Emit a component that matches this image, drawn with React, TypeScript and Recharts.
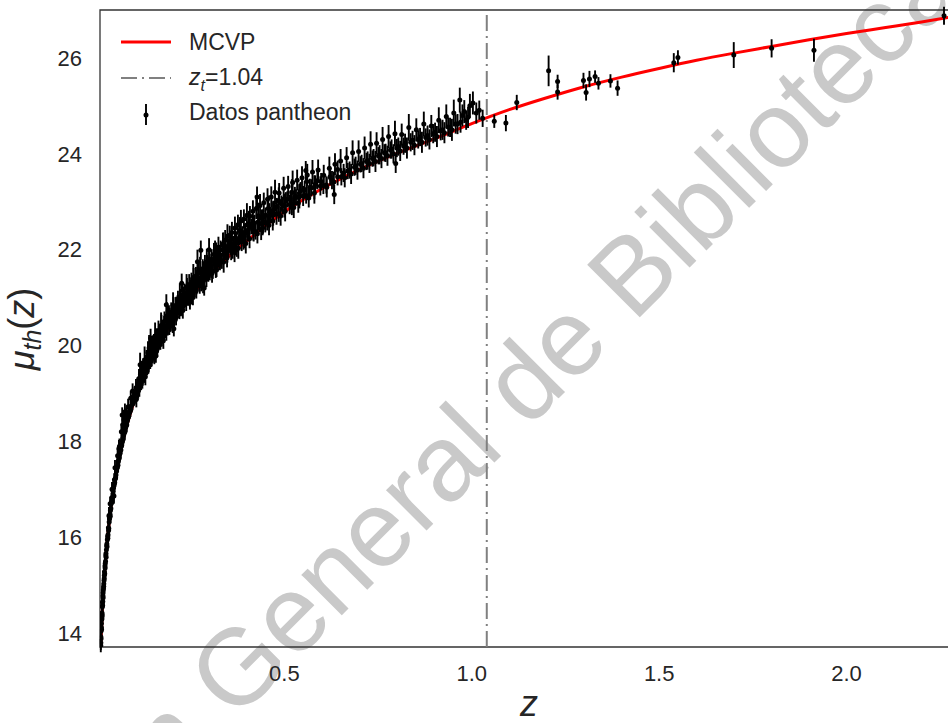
import { ComposedChart, ErrorBar, Label, Legend, Line, ReferenceArea, ReferenceLine, Scatter, XAxis, YAxis } from "recharts";

// model curve (MCVP)
const curveZ = [0.01, 0.015, 0.02, 0.03, 0.04, 0.05, 0.06, 0.07, 0.085, 0.1, 0.125, 0.15, 0.175, 0.2, 0.25, 0.3, 0.35, 0.4, 0.45, 0.5, 0.6, 0.7, 0.8, 0.9, 1.0, 1.1, 1.2, 1.3, 1.4, 1.5, 1.6, 1.7, 1.8, 1.9, 2.0, 2.1, 2.2, 2.3];
const curveMu = [13.71, 14.6, 15.23, 16.13, 16.77, 17.27, 17.68, 18.04, 18.48, 18.85, 19.36, 19.79, 20.15, 20.48, 21.02, 21.47, 21.85, 22.18, 22.5, 22.79, 23.27, 23.67, 24.01, 24.31, 24.63, 24.92, 25.17, 25.4, 25.6, 25.78, 25.95, 26.1, 26.24, 26.38, 26.51, 26.63, 26.75, 26.88];

// pantheon points [z, mu, err]
const lowZ = [
  [0.0101, 13.74, 0.14], [0.0104, 13.92, 0.16], [0.0108, 13.88, 0.13], [0.0112, 14.05, 0.15], [0.0116, 14.12, 0.12],
  [0.0121, 14.08, 0.14], [0.0125, 14.28, 0.15], [0.013, 14.3, 0.13], [0.0135, 14.42, 0.14], [0.0139, 14.38, 0.12],
  [0.0144, 14.55, 0.15], [0.0149, 14.58, 0.13], [0.0154, 14.66, 0.14], [0.0159, 14.78, 0.12], [0.0164, 14.74, 0.13],
  [0.0169, 14.9, 0.15], [0.0175, 14.94, 0.12], [0.0181, 15.03, 0.14], [0.0187, 15.1, 0.13], [0.0193, 15.14, 0.12],
  [0.0199, 15.28, 0.14], [0.0206, 15.24, 0.12], [0.0213, 15.4, 0.13], [0.022, 15.45, 0.14], [0.0227, 15.5, 0.12],
  [0.0235, 15.62, 0.13], [0.0243, 15.58, 0.15], [0.0251, 15.74, 0.12], [0.0259, 15.82, 0.13], [0.0267, 15.8, 0.12],
  [0.0276, 15.95, 0.14], [0.0285, 16.02, 0.12], [0.0294, 16.05, 0.13], [0.0304, 16.2, 0.12], [0.0314, 16.18, 0.14],
  [0.0318, 16.45, 0.18], [0.0325, 16.32, 0.12], [0.0336, 16.4, 0.13], [0.0347, 16.48, 0.12], [0.0359, 16.56, 0.14],
  [0.0371, 16.6, 0.12], [0.0384, 16.72, 0.13], [0.0397, 16.76, 0.12], [0.0411, 16.84, 0.14], [0.0425, 16.9, 0.12],
  [0.044, 17.02, 0.13], [0.0452, 16.86, 0.16], [0.0456, 17.08, 0.15], [0.0472, 17.14, 0.12], [0.0489, 17.22, 0.13],
  [0.0506, 17.3, 0.14], [0.0523, 17.38, 0.12], [0.0541, 17.46, 0.13], [0.0559, 17.5, 0.12], [0.0578, 17.62, 0.14],
  [0.0585, 17.85, 0.18], [0.0597, 17.66, 0.12], [0.0617, 17.76, 0.13], [0.0637, 17.82, 0.14], [0.0658, 17.92, 0.12],
  [0.0672, 18.55, 0.16], [0.0679, 18.0, 0.13], [0.0701, 18.05, 0.12], [0.0723, 18.16, 0.14], [0.0745, 18.62, 0.17],
  [0.0746, 18.2, 0.12], [0.0769, 18.3, 0.13], [0.0793, 18.34, 0.14], [0.0817, 18.45, 0.12], [0.0842, 18.52, 0.13],
  [0.0868, 18.6, 0.12], [0.0894, 18.65, 0.14], [0.0921, 18.75, 0.12], [0.0948, 18.78, 0.13], [0.0975, 18.88, 0.14],
  [0.0998, 18.92, 0.12],
];

const cfa = [
  [0.0103, 13.8, 0.15], [0.0119, 14.2, 0.14], [0.0133, 14.34, 0.15], [0.0147, 14.64, 0.14], [0.0162, 14.84, 0.15],
  [0.0178, 14.98, 0.14], [0.0196, 15.2, 0.15], [0.0217, 15.36, 0.14], [0.0239, 15.66, 0.15], [0.0263, 15.86, 0.14],
  [0.0289, 15.98, 0.15], [0.0309, 16.14, 0.14], [0.0331, 16.38, 0.15], [0.035, 16.7, 0.15], [0.0353, 16.44, 0.14],
  [0.0377, 16.7, 0.15], [0.04, 17.0, 0.15], [0.0404, 16.82, 0.14], [0.0432, 16.96, 0.15], [0.0464, 17.2, 0.14],
  [0.048, 17.45, 0.16], [0.0497, 17.24, 0.15], [0.0532, 17.44, 0.14], [0.055, 17.7, 0.15], [0.0568, 17.58, 0.15],
  [0.06, 17.9, 0.16], [0.0607, 17.74, 0.14], [0.0647, 17.9, 0.15], [0.065, 18.2, 0.16], [0.069, 18.35, 0.15],
  [0.069, 18.06, 0.14], [0.072, 18.45, 0.16], [0.0734, 18.22, 0.15], [0.078, 18.55, 0.15], [0.0781, 18.36, 0.14],
  [0.083, 18.72, 0.17], [0.083, 18.5, 0.15], [0.088, 18.62, 0.14], [0.09, 18.9, 0.16], [0.0934, 18.82, 0.15],
  [0.095, 19.05, 0.16], [0.0987, 18.9, 0.14],
];

const midA = [
  [0.102, 18.95, 0.14], [0.104, 19.12, 0.18], [0.106, 18.98, 0.15], [0.108, 19.2, 0.13], [0.11, 19.05, 0.16],
  [0.112, 19.31, 0.2], [0.114, 19.17, 0.14], [0.115, 19.6, 0.25], [0.116, 19.4, 0.17], [0.118, 19.22, 0.15],
  [0.12, 19.45, 0.22], [0.122, 19.3, 0.14], [0.124, 19.55, 0.19], [0.126, 19.38, 0.16], [0.128, 19.62, 0.18],
  [0.13, 19.48, 0.15], [0.132, 19.7, 0.21], [0.134, 19.52, 0.14], [0.136, 19.85, 0.24], [0.138, 19.6, 0.16],
  [0.14, 19.78, 0.18], [0.142, 19.66, 0.15], [0.143, 20.15, 0.2], [0.144, 19.92, 0.2], [0.146, 19.74, 0.17],
  [0.148, 19.98, 0.23], [0.15, 19.84, 0.15], [0.152, 20.05, 0.19], [0.154, 19.9, 0.16], [0.156, 20.12, 0.21],
  [0.157, 19.78, 0.14], [0.158, 19.95, 0.14], [0.16, 20.18, 0.18], [0.162, 20.02, 0.16], [0.164, 20.3, 0.22],
  [0.166, 20.08, 0.15], [0.168, 20.25, 0.19], [0.17, 20.14, 0.17], [0.172, 20.4, 0.24], [0.174, 20.2, 0.15],
  [0.176, 20.36, 0.18], [0.178, 20.26, 0.16], [0.18, 20.5, 0.21], [0.183, 20.31, 0.15], [0.185, 20.85, 0.22],
  [0.186, 20.55, 0.19], [0.189, 20.38, 0.17], [0.192, 20.62, 0.22], [0.195, 20.45, 0.16], [0.198, 20.7, 0.2],
  [0.201, 20.52, 0.15], [0.204, 20.78, 0.23], [0.205, 20.35, 0.16], [0.207, 20.6, 0.17], [0.21, 20.82, 0.19],
  [0.213, 20.68, 0.16], [0.216, 20.92, 0.22], [0.219, 20.72, 0.15], [0.222, 20.98, 0.2], [0.225, 20.8, 0.17],
  [0.226, 21.3, 0.2], [0.228, 21.06, 0.24], [0.231, 20.88, 0.16], [0.234, 21.1, 0.19], [0.237, 20.95, 0.15],
  [0.24, 21.2, 0.21], [0.243, 21.0, 0.17], [0.246, 21.26, 0.23], [0.248, 20.9, 0.15], [0.249, 21.08, 0.16],
  [0.252, 21.32, 0.2], [0.255, 21.14, 0.15], [0.258, 21.4, 0.22], [0.261, 21.18, 0.17], [0.264, 21.45, 0.19],
  [0.267, 21.26, 0.16], [0.268, 21.75, 0.25], [0.27, 21.52, 0.24], [0.273, 21.3, 0.15], [0.276, 21.55, 0.21],
  [0.277, 21.99, 0.2], [0.279, 21.36, 0.17], [0.282, 21.6, 0.2], [0.285, 21.42, 0.16], [0.286, 21.2, 0.16],
  [0.288, 21.66, 0.23], [0.291, 21.48, 0.15], [0.294, 21.7, 0.19], [0.297, 21.5, 0.17], [0.299, 22.0, 0.24],
  [0.3, 21.78, 0.22],
];

const ps1 = [
  [0.101, 18.92, 0.15], [0.105, 18.88, 0.17], [0.109, 19.17, 0.14], [0.113, 19.11, 0.18], [0.117, 19.41, 0.15],
  [0.121, 19.29, 0.19], [0.125, 19.41, 0.16], [0.129, 19.35, 0.18], [0.133, 19.63, 0.17], [0.137, 19.56, 0.15],
  [0.141, 19.85, 0.19], [0.145, 19.71, 0.16], [0.149, 19.82, 0.18], [0.153, 19.76, 0.15], [0.157, 20.02, 0.19],
  [0.161, 19.93, 0.17], [0.165, 20.21, 0.2], [0.169, 20.07, 0.16], [0.173, 20.17, 0.19], [0.177, 20.1, 0.17],
  [0.181, 20.35, 0.2], [0.185, 20.26, 0.16], [0.189, 20.54, 0.19], [0.193, 20.39, 0.17], [0.197, 20.49, 0.2],
  [0.202, 20.42, 0.16], [0.206, 20.67, 0.19], [0.211, 20.59, 0.17], [0.215, 20.85, 0.2], [0.22, 20.71, 0.16],
  [0.224, 20.8, 0.19], [0.229, 20.73, 0.17], [0.233, 20.97, 0.2], [0.238, 20.88, 0.16], [0.242, 21.14, 0.19],
  [0.247, 20.99, 0.17], [0.251, 21.08, 0.2], [0.256, 21.0, 0.16], [0.26, 21.24, 0.19], [0.265, 21.15, 0.17],
  [0.269, 21.4, 0.21], [0.274, 21.25, 0.17], [0.278, 21.33, 0.2], [0.283, 21.25, 0.16], [0.287, 21.48, 0.19],
  [0.292, 21.39, 0.17], [0.296, 21.64, 0.21],
  [0.301, 21.53, 0.17], [0.307, 21.51, 0.2], [0.313, 21.74, 0.16], [0.317, 21.62, 0.21], [0.322, 21.87, 0.17],
  [0.328, 21.77, 0.2], [0.332, 21.77, 0.16], [0.338, 21.74, 0.22], [0.343, 21.95, 0.17], [0.347, 21.83, 0.2],
  [0.352, 22.08, 0.16], [0.358, 21.99, 0.21], [0.362, 21.98, 0.17], [0.367, 21.94, 0.2], [0.371, 22.14, 0.16],
  [0.377, 22.03, 0.22], [0.382, 22.28, 0.17], [0.386, 22.17, 0.2], [0.391, 22.17, 0.17], [0.397, 22.13, 0.21],
  [0.402, 22.34, 0.17], [0.407, 22.23, 0.2], [0.413, 22.49, 0.16], [0.418, 22.38, 0.21], [0.423, 22.38, 0.17],
  [0.428, 22.33, 0.2], [0.433, 22.54, 0.17], [0.438, 22.42, 0.22], [0.444, 22.67, 0.17], [0.449, 22.56, 0.2],
  [0.454, 22.56, 0.16], [0.459, 22.51, 0.21], [0.464, 22.72, 0.17], [0.469, 22.6, 0.2], [0.474, 22.85, 0.17],
  [0.479, 22.74, 0.22], [0.485, 22.75, 0.17], [0.49, 22.7, 0.2], [0.496, 22.92, 0.18], [0.502, 22.8, 0.21],
  [0.508, 23.05, 0.17], [0.514, 22.94, 0.2], [0.519, 22.94, 0.18], [0.525, 22.88, 0.22], [0.531, 23.09, 0.17],
  [0.537, 22.97, 0.2], [0.543, 23.23, 0.18], [0.55, 23.12, 0.21], [0.558, 23.13, 0.17], [0.565, 23.08, 0.2],
  [0.572, 23.29, 0.18], [0.58, 23.18, 0.22], [0.588, 23.44, 0.18], [0.596, 23.33, 0.2], [0.604, 23.34, 0.18],
  [0.613, 23.3, 0.21], [0.622, 23.52, 0.18], [0.632, 23.41, 0.22], [0.642, 23.67, 0.19],
];

const sdss = [
  [0.12, 19.42, 0.26], [0.127, 19.7, 0.28], [0.135, 19.66, 0.25], [0.139, 19.95, 0.27], [0.147, 19.9, 0.26],
  [0.155, 20.2, 0.28], [0.163, 20.1, 0.25], [0.171, 20.42, 0.27], [0.179, 20.36, 0.26], [0.187, 20.62, 0.28],
  [0.194, 20.54, 0.25], [0.203, 20.84, 0.27], [0.212, 20.76, 0.26], [0.221, 21.02, 0.28], [0.23, 20.98, 0.25],
  [0.239, 21.22, 0.27], [0.248, 21.16, 0.26], [0.257, 21.42, 0.28], [0.266, 21.32, 0.25], [0.275, 21.58, 0.27],
  [0.284, 21.5, 0.26], [0.293, 21.74, 0.28], [0.305, 21.66, 0.25], [0.315, 21.92, 0.27], [0.326, 21.84, 0.26],
  [0.337, 22.08, 0.28], [0.348, 21.98, 0.25], [0.359, 22.22, 0.27], [0.37, 22.14, 0.26], [0.381, 22.4, 0.28],
  [0.393, 22.28, 0.25], [0.405, 22.54, 0.27], [0.417, 22.45, 0.26], [0.43, 22.7, 0.28], [0.443, 22.58, 0.25],
  [0.457, 22.86, 0.27], [0.47, 22.76, 0.26], [0.485, 23.02, 0.28], [0.5, 22.92, 0.25], [0.52, 23.2, 0.27],
  [0.54, 23.12, 0.26], [0.56, 23.42, 0.28], [0.58, 23.3, 0.25],
];

const midB = [
  [0.303, 21.62, 0.18], [0.306, 21.8, 0.21], [0.309, 21.55, 0.16], [0.312, 21.9, 0.24], [0.315, 21.7, 0.17],
  [0.318, 21.95, 0.2], [0.319, 21.58, 0.15], [0.321, 21.68, 0.15], [0.324, 22.05, 0.22], [0.327, 21.82, 0.18],
  [0.33, 22.0, 0.19], [0.333, 21.76, 0.16], [0.336, 22.12, 0.23], [0.339, 21.9, 0.17], [0.342, 22.2, 0.21],
  [0.345, 21.95, 0.16], [0.348, 22.28, 0.25], [0.351, 22.02, 0.18], [0.354, 22.3, 0.2], [0.357, 22.05, 0.16],
  [0.36, 22.36, 0.22], [0.364, 22.12, 0.17], [0.368, 22.45, 0.24], [0.372, 22.2, 0.18], [0.373, 22.0, 0.15],
  [0.376, 22.52, 0.21], [0.38, 22.25, 0.16], [0.384, 22.6, 0.23], [0.388, 22.32, 0.17], [0.392, 22.64, 0.2],
  [0.396, 22.38, 0.18], [0.4, 22.72, 0.25], [0.404, 22.42, 0.17], [0.408, 22.7, 0.21], [0.412, 22.48, 0.16],
  [0.416, 22.8, 0.23], [0.42, 22.55, 0.18], [0.425, 22.86, 0.22], [0.427, 23.1, 0.22], [0.43, 22.58, 0.17],
  [0.435, 22.92, 0.24], [0.44, 22.66, 0.18], [0.442, 22.45, 0.15], [0.445, 22.98, 0.21], [0.45, 22.72, 0.16],
  [0.455, 23.05, 0.23], [0.46, 22.78, 0.19], [0.465, 23.1, 0.22], [0.47, 22.82, 0.17], [0.475, 23.2, 0.26],
  [0.48, 22.9, 0.18], [0.486, 23.18, 0.21], [0.492, 22.96, 0.17], [0.498, 23.28, 0.24], [0.504, 23.02, 0.18],
  [0.51, 23.32, 0.22], [0.516, 23.06, 0.17], [0.52, 22.88, 0.16], [0.522, 23.4, 0.25], [0.528, 23.12, 0.19],
  [0.534, 23.45, 0.22], [0.54, 23.18, 0.18], [0.547, 23.5, 0.24], [0.554, 23.25, 0.19], [0.557, 23.65, 0.2],
  [0.561, 23.56, 0.23], [0.568, 23.3, 0.18], [0.575, 23.62, 0.25], [0.582, 23.36, 0.19], [0.59, 23.66, 0.22],
  [0.598, 23.42, 0.18],
];

const midC = [
  [0.605, 23.55, 0.22], [0.612, 23.35, 0.18], [0.62, 23.7, 0.24], [0.627, 23.45, 0.19], [0.633, 23.15, 0.2],
  [0.635, 23.78, 0.23], [0.642, 23.52, 0.18], [0.65, 23.85, 0.25], [0.658, 23.6, 0.19], [0.666, 23.92, 0.22],
  [0.674, 23.66, 0.18], [0.682, 24.02, 0.26], [0.69, 23.75, 0.19], [0.698, 24.05, 0.23], [0.706, 23.8, 0.18],
  [0.714, 24.12, 0.24], [0.722, 23.86, 0.19], [0.73, 24.2, 0.27], [0.738, 23.92, 0.18], [0.746, 24.22, 0.23],
  [0.754, 23.98, 0.2], [0.762, 24.3, 0.26], [0.77, 24.02, 0.19], [0.778, 24.36, 0.24], [0.786, 24.1, 0.2],
  [0.795, 24.42, 0.27], [0.797, 23.8, 0.2], [0.804, 24.15, 0.19], [0.813, 24.4, 0.23], [0.822, 24.22, 0.2],
  [0.832, 24.55, 0.28], [0.842, 24.28, 0.2], [0.852, 24.5, 0.24], [0.862, 24.35, 0.19], [0.872, 24.62, 0.26],
  [0.882, 24.38, 0.21], [0.892, 24.58, 0.23], [0.902, 24.45, 0.2], [0.912, 24.7, 0.27], [0.922, 24.5, 0.21],
  [0.932, 24.78, 0.25], [0.942, 24.55, 0.2], [0.952, 24.85, 0.28], [0.962, 24.62, 0.21], [0.968, 25.12, 0.26],
  [0.975, 24.8, 0.23], [0.985, 24.7, 0.2], [0.995, 25.0, 0.25], [1.003, 25.06, 0.24], [1.012, 24.85, 0.22],
];

const snls = [
  [0.652, 23.52, 0.18], [0.661, 23.5, 0.2], [0.669, 23.64, 0.17], [0.678, 23.58, 0.21], [0.687, 23.72, 0.18],
  [0.695, 23.66, 0.2], [0.703, 23.78, 0.17], [0.711, 23.7, 0.21], [0.719, 23.84, 0.18], [0.727, 23.8, 0.2],
  [0.735, 23.9, 0.17], [0.743, 23.84, 0.22], [0.751, 23.96, 0.18], [0.759, 23.9, 0.2], [0.767, 24.02, 0.18],
  [0.775, 23.96, 0.21], [0.783, 24.08, 0.18], [0.791, 24.0, 0.2], [0.8, 24.12, 0.19], [0.809, 24.06, 0.21],
  [0.818, 24.16, 0.18], [0.827, 24.12, 0.22], [0.837, 24.24, 0.19], [0.847, 24.18, 0.21], [0.857, 24.3, 0.19],
  [0.867, 24.24, 0.22], [0.877, 24.34, 0.19], [0.887, 24.3, 0.21], [0.897, 24.42, 0.2], [0.907, 24.36, 0.22],
  [0.917, 24.48, 0.2], [0.927, 24.44, 0.22], [0.937, 24.56, 0.2], [0.947, 24.5, 0.23], [0.957, 24.62, 0.2],
  [0.97, 24.66, 0.22], [0.98, 24.88, 0.24], [0.99, 24.76, 0.22],
];

const highZ = [
  [1.02, 24.91, 0.2], [1.029, 24.74, 0.18], [1.06, 24.68, 0.14], [1.091, 24.64, 0.17], [1.12, 25.07, 0.16],
  [1.205, 25.73, 0.32], [1.229, 25.51, 0.14], [1.229, 25.29, 0.16], [1.298, 25.53, 0.16], [1.305, 25.28, 0.17],
  [1.314, 25.56, 0.17], [1.329, 25.61, 0.13], [1.338, 25.47, 0.13], [1.37, 25.52, 0.14], [1.389, 25.37, 0.16],
  [1.539, 25.9, 0.2], [1.55, 26.01, 0.15], [1.699, 26.06, 0.27], [1.8, 26.2, 0.19], [1.913, 26.16, 0.24],
  [2.26, 26.88, 0.19],
];

const yTicks = [14, 16, 18, 20, 22, 24, 26];
const xTicks = [0.5, 1.0, 1.5, 2.0];
const zT = 1.04;

const curve = curveZ.map((z, i) => ({ z, mu: curveMu[i] }));
const points = [...lowZ, ...cfa, ...midA, ...ps1, ...sdss, ...midB, ...midC, ...snls, ...highZ].map(([z, mu, err]) => ({ z, mu, err }));

const FONT = "'Liberation Sans', Arial, sans-serif";
const INK = "#262626";

const dot = (props: any) => <circle cx={props.cx} cy={props.cy} r={2.5} fill="#000" />;

function LegendBox() {
  return (
    <svg width={320} height={130} style={{ display: "block", fontFamily: FONT }}>
      <line x1={21} x2={71} y1={32} y2={32} stroke="#ff0000" strokeWidth={3} />
      <text x={89} y={40} fontSize={23} fill={INK}>MCVP</text>
      <line x1={21} x2={71} y1={68} y2={68} stroke="#808080" strokeWidth={2} strokeDasharray="16 5 2 5" />
      <text x={89} y={75} fontSize={23} fill={INK}>
        <tspan fontStyle="italic">z</tspan>
        <tspan fontStyle="italic" fontSize={16} dy={6}>t</tspan>
        <tspan dy={-6}>=1.04</tspan>
      </text>
      <line x1={46} x2={46} y1={94} y2={115} stroke="#000" strokeWidth={1.9} />
      <circle cx={46} cy={105} r={2.5} fill="#000" />
      <text x={89} y={110} fontSize={23} fill={INK}>Datos pantheon</text>
    </svg>
  );
}

export default function App() {
  return (
    <div style={{ position: "fixed", left: 0, top: 0, width: 948, height: 723, overflow: "hidden", background: "#fff" }}>
      <svg width={948} height={723} style={{ position: "absolute", left: 0, top: 0 }}>
        <text
          x={-105}
          y={1062}
          transform="rotate(-45 -105 1062)"
          fontSize={108}
          fontFamily={FONT}
          fill="#c9c9c9"
        >
          Dirección General de Bibliotecas
        </text>
      </svg>
      <div style={{ position: "absolute", left: 0, top: 0 }}>
        <ComposedChart width={959} height={723} margin={{ top: 10, right: 0, bottom: 0, left: 0 }}>
          <XAxis
            dataKey="z"
            type="number"
            domain={[0.008, 2.3]}
            allowDataOverflow
            ticks={xTicks}
            interval={0}
            tickFormatter={(v: number) => v.toFixed(1)}
            tickLine={false}
            axisLine={false}
            tickMargin={12}
            height={76}
            tick={{ fill: INK, fontSize: 22, fontFamily: FONT }}
          >
            <Label
              content={() => (
                <text x={529} y={716} textAnchor="middle" fontSize={36} fontStyle="italic" fontFamily={FONT} fill={INK}>
                  z
                </text>
              )}
            />
          </XAxis>
          <YAxis
            dataKey="mu"
            type="number"
            domain={[13.71, 27]}
            allowDataOverflow
            ticks={yTicks}
            interval={0}
            tickLine={false}
            axisLine={false}
            tickMargin={12}
            width={100}
            tick={{ fill: INK, fontSize: 22, fontFamily: FONT }}
          >
            <Label
              content={() => (
                <text
                  x={34}
                  y={329}
                  transform="rotate(-90 34 329)"
                  textAnchor="middle"
                  fontSize={36}
                  fontFamily={FONT}
                  fill={INK}
                >
                  <tspan fontStyle="italic">μ</tspan>
                  <tspan fontStyle="italic" fontSize={25} dy={7}>th</tspan>
                  <tspan dy={-7}>(</tspan>
                  <tspan fontStyle="italic">z</tspan>
                  <tspan>)</tspan>
                </text>
              )}
            />
          </YAxis>
          <ReferenceLine x={zT} stroke="#808080" strokeWidth={2} strokeDasharray="16 5 2 5" />
          <Line
            data={curve}
            dataKey="mu"
            type="monotone"
            stroke="#ff0000"
            strokeWidth={3}
            dot={false}
            isAnimationActive={false}
            name="MCVP"
          />
          <Scatter data={points} dataKey="mu" shape={dot} isAnimationActive={false} name="Datos pantheon">
            <ErrorBar dataKey="err" direction="y" width={0} stroke="#000" strokeWidth={1.9} />
          </Scatter>
          <ReferenceArea x1={0.008} x2={2.3} y1={13.71} y2={27} fill="none" stroke="#333333" strokeWidth={1.3} />
          <Legend
            layout="vertical"
            align="center"
            verticalAlign="middle"
            content={() => <LegendBox />}
            wrapperStyle={{ left: 100, top: 10, width: 320, height: 130 }}
          />
        </ComposedChart>
      </div>
    </div>
  );
}
